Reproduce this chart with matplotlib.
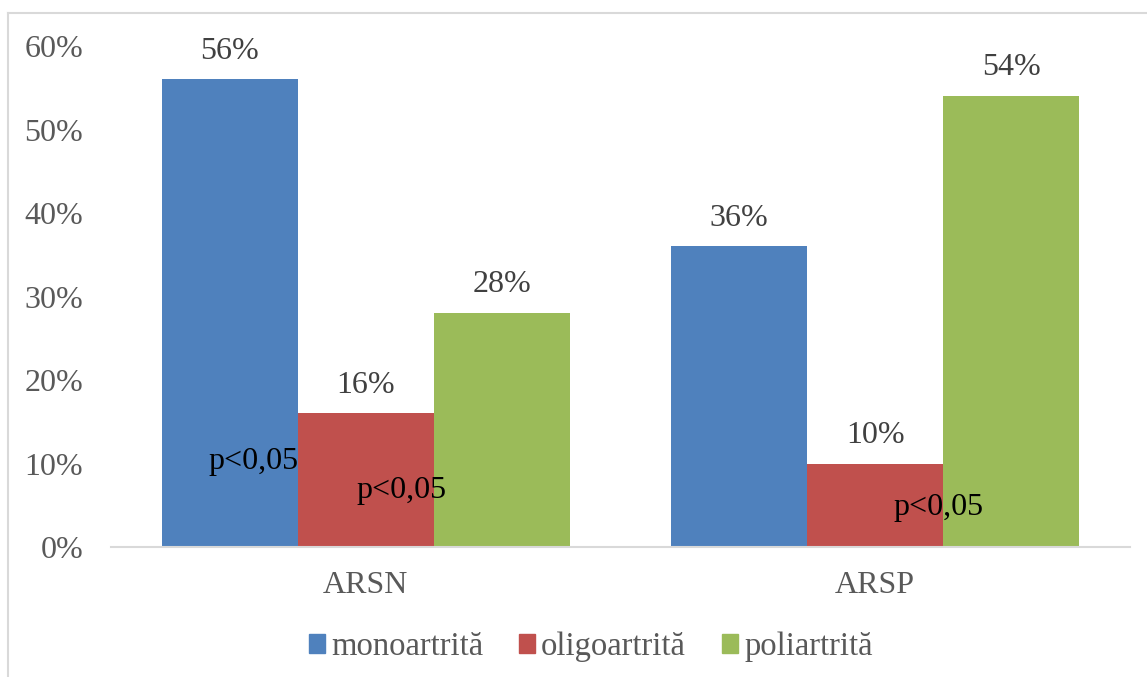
import matplotlib.pyplot as plt
import matplotlib.patches as mpatches
from matplotlib.lines import Line2D
import numpy as np

groups = ["ARSN", "ARSP"]
series = ["monoartrită", "oligoartrită", "poliartrită"]
monoartrita = [56, 36]
oligoartrita = [16, 10]
poliartrita = [28, 54]
colors = ["#4F81BD", "#C0504D", "#9BBB59"]
yticks = [0, 10, 20, 30, 40, 50, 60]

# p-value notes: (x in category units, y in %)
p_notes = [(-0.22, 10.2), (0.07, 6.8), (1.125, 4.7)]

plt.rcParams['font.family'] = ['Liberation Serif', 'DejaVu Serif']
fs = 23

fig = plt.figure(figsize=(11.47, 6.77), dpi=100)
ax = fig.add_axes([0.0968, 0.192, 0.8882, 0.740])

# outer light frame (only top and left edges show)
fig.add_artist(Line2D([0.007, 0.007], [0.0, 0.981], color="#D9D9D9", lw=1.5,
                      transform=fig.transFigure))
fig.add_artist(Line2D([0.007, 1.0], [0.981, 0.981], color="#D9D9D9", lw=1.5,
                      transform=fig.transFigure))

x = np.arange(len(groups))
w = 0.267
vals = [monoartrita, oligoartrita, poliartrita]
for i, (name, v) in enumerate(zip(series, vals)):
    bars = ax.bar(x + (i - 1) * w, v, w, color=colors[i], label=name)
    for b, val in zip(bars, v):
        ax.annotate(f"{val}%", (b.get_x() + b.get_width() / 2, val),
                    xytext=(0, 10), textcoords="offset points",
                    ha="center", va="bottom", fontsize=fs, color="#404040")

for px, py in p_notes:
    ax.text(px, py, "p<0,05", ha="center", va="center", fontsize=fs, color="black")

ax.set_xlim(-0.5, 1.5)
ax.set_ylim(0, 60)
ax.set_yticks(yticks)
ax.set_yticklabels([f"{t}%" for t in yticks])
ax.set_xticks(x)
ax.set_xticklabels(groups)
ax.tick_params(axis="both", length=0, labelsize=fs, colors="#595959")
ax.tick_params(axis="y", pad=20)
ax.tick_params(axis="x", pad=17)
for s in ["top", "right", "left"]:
    ax.spines[s].set_visible(False)
ax.spines["bottom"].set_color("#D9D9D9")
ax.spines["bottom"].set_linewidth(1.5)

handles = [mpatches.Patch(color=c) for c in colors]
leg = fig.legend(handles, series, loc="center", bbox_to_anchor=(0.515, 0.045), ncol=3,
                 frameon=False, fontsize=23.5, handlelength=0.5, handleheight=0.5,
                 handletextpad=0.18, columnspacing=1.1)
for t in leg.get_texts():
    t.set_color("#595959")

fig.savefig("out.png", dpi=100)
